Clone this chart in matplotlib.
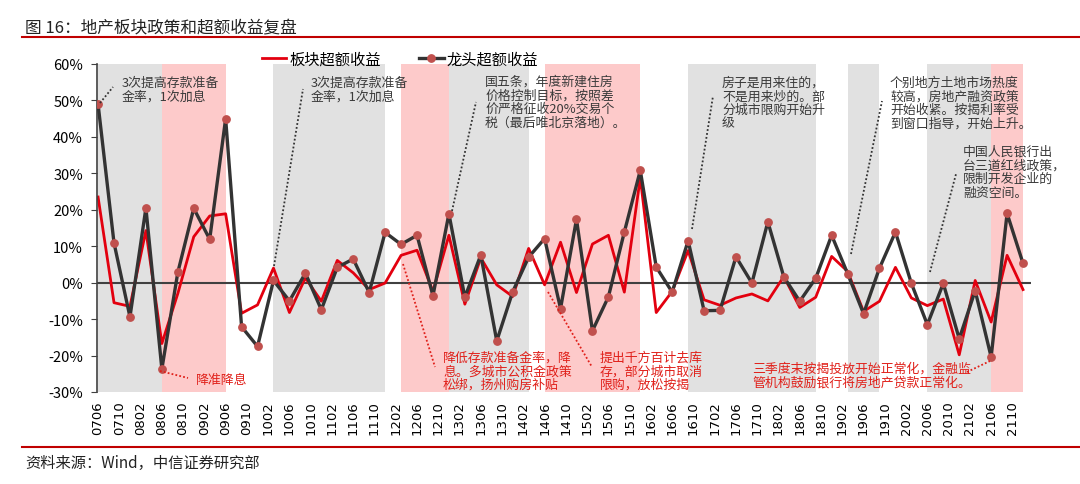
import matplotlib
matplotlib.use("Agg")
import matplotlib.pyplot as plt
from matplotlib.lines import Line2D
import numpy as np

plt.rcParams['font.family'] = ['Noto Sans CJK SC', 'DejaVu Sans']

# tick labels, one every 4 months starting 2007-06
tick_labels = ['0706', '0710', '0802', '0806', '0810', '0902', '0906', '0910',
               '1002', '1006', '1010', '1102', '1106', '1110', '1202', '1206',
               '1210', '1302', '1306', '1310', '1402', '1406', '1410', '1502',
               '1506', '1510', '1602', '1606', '1610', '1702', '1706', '1710',
               '1802', '1806', '1810', '1902', '1906', '1910', '2002', '2006',
               '2010', '2102', '2106', '2110']

# quarterly excess returns (%), first point = 2007-06
sector = [23.5, -5.5, -6.5, 14.3, -16.7, -3.0, 12.6, 18.3, 18.9, -8.4,
          -6.1, 4.0, -8.2, 1.3, -5.1, 6.1, 2.7, -1.9, -0.1, 7.5,
          8.9, -2.4, 13.0, -5.9, 6.8, -0.6, -3.8, 9.4, -0.6, 11.1,
          -2.7, 10.6, 13.0, -2.6, 28.8, -8.2, -2.4, 8.8, -4.7, -6.2,
          -4.2, -3.1, -5.0, 1.7, -6.8, -4.0, 7.2, 3.1, -7.9, -5.1,
          4.2, -4.2, -6.3, -4.5, -19.8, 0.6, -10.8, 7.5, -1.9]
leader = [49.0, 10.9, -9.4, 20.5, -23.7, 2.8, 20.4, 11.9, 45.0, -12.1,
          -17.5, 0.6, -5.0, 2.6, -7.4, 4.2, 6.5, -2.7, 13.8, 10.5,
          13.0, -3.6, 18.9, -4.0, 7.6, -16.0, -2.5, 7.0, 12.1, -7.1,
          17.4, -13.2, -3.9, 13.9, 30.8, 4.3, -2.6, 11.5, -7.7, -7.6,
          7.1, -0.1, 16.7, 1.6, -5.1, 1.2, 13.0, 2.5, -8.5, 4.0,
          13.9, -0.2, -11.5, -0.2, -15.4, -2.2, -20.4, 19.0, 5.3]

# shaded policy periods, in months since 2007-06
gray_spans = [(0, 12), (33, 54), (66, 81), (111, 135), (141, 147), (156, 168)]
pink_spans = [(12, 24), (57, 66), (84, 102), (168, 174)]

W, H = 1080, 485
fig = plt.figure(figsize=(10.8, 4.85), dpi=100)
ax = fig.add_axes([97 / W, 1 - 393 / H, (1031 - 97) / W, (393 - 65) / H])

def fx(px):
    return px / W

def fy(py):
    return 1 - py / H

for a, b in gray_spans:
    ax.axvspan(a, b, color='#e1e1e1', lw=0, zorder=0)
for a, b in pink_spans:
    ax.axvspan(a, b, color='#fdcaca', lw=0, zorder=0)

ax.axhline(0, color='#404040', lw=1.5, zorder=1)

months = np.arange(len(sector)) * 3
ax.plot(months, sector, color='#e3000f', lw=2, zorder=2, label='板块超额收益')
ax.plot(months, leader, color='#333333', lw=2.4, marker='o', markersize=5.3,
        markerfacecolor='#c0504d', markeredgecolor='#c0504d', zorder=3,
        label='龙头超额收益')

ax.set_xlim(-0.2, 175.5)
ax.set_ylim(-30, 60)
ax.set_yticks(np.arange(-30, 61, 10))
ax.set_yticklabels([f'{v}%' for v in range(-30, 61, 10)], fontsize=10.5)
ax.set_xticks(np.arange(len(tick_labels)) * 4)
ax.set_xticklabels(tick_labels, rotation=90, fontsize=9.5, family='DejaVu Sans')
ax.tick_params(axis='x', length=0, pad=6)
ax.tick_params(axis='y', length=4, direction='out', color='#404040', pad=6)
for s in ['top', 'right', 'bottom']:
    ax.spines[s].set_visible(False)
ax.spines['left'].set_color('#404040')
ax.spines['left'].set_linewidth(1.2)

# legend
fig.legend(loc='center', bbox_to_anchor=(fx(400), fy(60)), ncol=2, frameon=False,
           fontsize=11, handlelength=1.6, handletextpad=0.2, columnspacing=2.5)

# gray annotations
gray_notes = [
    (122, 77, '3次提高存款准备\n金率，1次加息'),
    (311, 77, '3次提高存款准备\n金率，1次加息'),
    (485, 76, '国五条，年度新建住房\n价格控制目标，按照差\n价严格征收20%交易个\n税（最后唯北京落地）。'),
    (722, 77, '房子是用来住的，\n不是用来炒的。部\n分城市限购开始升\n级'),
    (890, 77, '个别地方土地市场热度\n较高，房地产融资政策\n开始收紧。按揭利率受\n到窗口指导，开始上升。'),
    (963, 146, '中国人民银行出\n台三道红线政策，\n限制开发企业的\n融资空间。'),
]
for x, y, t in gray_notes:
    fig.text(fx(x), fy(y), t, ha='left', va='top', fontsize=9.3,
             color='#3a3a3a', linespacing=1.05)

gray_lines = [((100, 104), (113, 88)), ((274, 267), (303, 90)),
              ((452, 212), (476, 103)), ((692, 230), (713, 97)),
              ((851, 255), (882, 102)), ((930, 273), (956, 175))]
for (x0, y0), (x1, y1) in gray_lines:
    fig.add_artist(Line2D([fx(x0), fx(x1)], [fy(y0), fy(y1)], color='#333333',
                          lw=1.3, ls=(0, (1, 1.2))))

# red annotations
red_notes = [
    (196, 374, '降准降息'),
    (443, 352, '降低存款准备金率，降\n息。多城市公积金政策\n松绑，扬州购房补贴'),
    (600, 352, '提出千方百计去库\n存，部分城市取消\n限购，放松按揭'),
    (752, 363, '三季度末按揭投放开始正常化，金融监\n管机构鼓励银行将房地产贷款正常化。'),
]
for x, y, t in red_notes:
    fig.text(fx(x), fy(y), t, ha='left', va='top', fontsize=9.3,
             color='#e0201a', linespacing=1.05)

red_lines = [((160, 372), (188, 379)), ((403, 265), (435, 368)),
             ((548, 293), (592, 368)), ((967, 373), (990, 362))]
for (x0, y0), (x1, y1) in red_lines:
    fig.add_artist(Line2D([fx(x0), fx(x1)], [fy(y0), fy(y1)], color='#e0201a',
                          lw=1.3, ls=(0, (1, 1.2))))

# title, source and rules
fig.text(fx(25), fy(29), '图 16：地产板块政策和超额收益复盘', fontsize=12,
         va='center', ha='left', color='#222222')
fig.add_artist(Line2D([fx(22), 1], [fy(37.5), fy(37.5)], color='#c00000', lw=1.5))
fig.add_artist(Line2D([fx(22), 1], [fy(448), fy(448)], color='#c00000', lw=1.5))
fig.text(fx(25), fy(463), '资料来源：Wind，中信证券研究部', fontsize=11,
         va='center', ha='left', color='#222222')

fig.savefig('out.png', dpi=100)
